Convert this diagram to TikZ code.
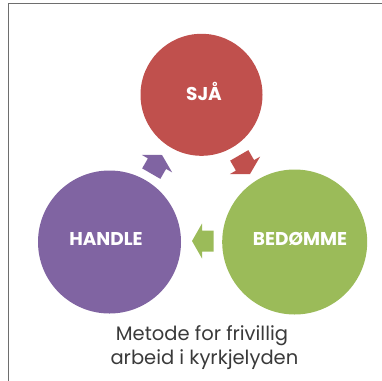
\documentclass[tikz,border=0pt]{standalone}
\usepackage{fontspec}
\setmainfont{Poppins}
\definecolor{cred}{HTML}{C0504D}
\definecolor{cgreen}{HTML}{9BBB59}
\definecolor{cpurple}{HTML}{8064A2}
\definecolor{framegray}{HTML}{6E6E6E}
\definecolor{captxt}{HTML}{3A3A3A}
\tikzset{
  bubble/.style={circle, inner sep=0pt, draw=none},
  lbl/.style={text=white, font=\bfseries\fontsize{18.5}{20}\selectfont, anchor=base, inner sep=0pt},
  captext/.style={text=captxt, font=\fontsize{19.5}{24}\selectfont, anchor=base, inner sep=0pt},
}
\newcommand{\blockarrow}[3]{%
  \begin{scope}[shift={(#1)}, rotate=#2]
    \fill[#3] (0,0) -- (-10,17.5) -- (-10,10.5) -- (-21.5,10.5) -- (-21.5,-10.5) -- (-10,-10.5) -- (-10,-17.5) -- cycle;
  \end{scope}}
\begin{document}
\begin{tikzpicture}[x=1pt,y=1pt]
\useasboundingbox (0,0) rectangle (382,-380);
\begin{scope}
\clip (0,0) rectangle (382,-380);
\draw[framegray, line width=1.3pt] (8.5,-390) -- (8.5,-3.5) -- (400,-3.5);
\end{scope}
\node[bubble, fill=cred, minimum size=122pt] (sja) at (201.5,-94.8) {};
\node[bubble, fill=cpurple, minimum size=143pt] (handle) at (109.5,-242) {};
\node[bubble, fill=cgreen, minimum size=145pt] (bedomme) at (294.7,-242) {};
\node[lbl] (tsja) at (204,-100) {SJÅ};
\node[lbl] (thandle) at (106,-245) {HANDLE};
\node[lbl] (tbedomme) at (300,-245) {BEDØMME};
\blockarrow{250,-174}{-60}{cred}
\blockarrow{192,-241}{180}{cgreen}
\blockarrow{162,-155}{60}{cpurple}
\node[captext] (cap1) at (202,-340) {Metode for frivillig};
\node[captext] (cap2) at (204.4,-364) {arbeid i kyrkjelyden};
\end{tikzpicture}
\end{document}
